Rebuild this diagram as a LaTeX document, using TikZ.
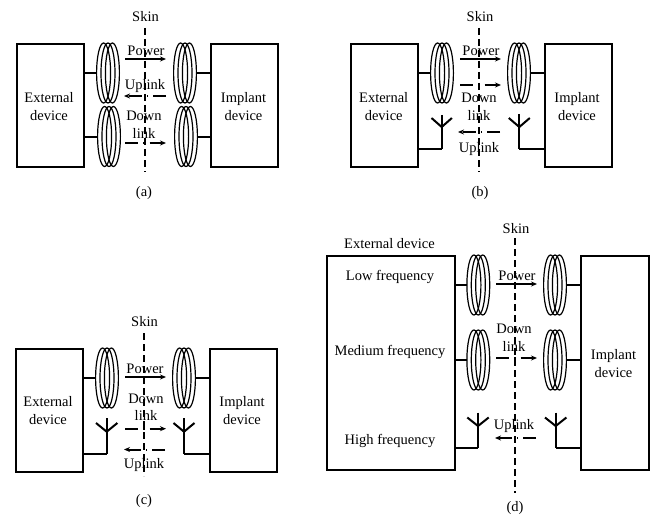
\documentclass[tikz,border=0pt]{standalone}
\usepackage{fontspec}
\setmainfont{Liberation Serif}
\usetikzlibrary{shapes.geometric,arrows.meta}
\tikzset{
  boxnode/.style={draw,line width=2pt,inner sep=0pt,anchor=north west},
  coilring/.style={draw,ellipse,line width=1.2pt,minimum width=14pt,minimum height=60pt,inner sep=0pt},
  coilframe/.style={inner sep=0pt,minimum width=22pt,minimum height=60pt},
  wire/.style={line width=2pt},
  skinline/.style={line width=2pt,dash pattern=on 7pt off 4pt},
  lbl/.style={inner sep=0pt,font=\fontsize{14.5}{17}\selectfont,text height=14.5pt,text depth=3pt},
  solidflow/.style={line width=2pt,-{Stealth[length=6pt,width=5pt]}},
  dashflow/.style={line width=2pt,dash pattern=on 13pt off 5pt on 1.5pt off 5pt,-{Stealth[length=6pt,width=5pt]}}
}
% name, x centre, y centre
\newcommand{\coilat}[3]{%
  \node[coilframe] (#1) at (#2,#3) {};
  \node[coilring] (#1a) at (#2-4.4,#3) {};
  \node[coilring] (#1b) at (#2,#3) {};
  \node[coilring] (#1c) at (#2+4.4,#3) {};
}
% name, stem x, top y, joint y, tip y, foot y, half spread
\newcommand{\antennaat}[7]{%
  \coordinate (#1top) at (#2,#3);
  \coordinate (#1joint) at (#2,#4);
  \coordinate (#1l) at (#2-#7,#5);
  \coordinate (#1r) at (#2+#7,#5);
  \coordinate (#1foot) at (#2,#6);
  \draw[wire] (#1l) -- (#1joint) -- (#1r);
  \draw[wire] (#1top) -- (#1foot);
}
% name, style, x1, x2, y
\newcommand{\flowat}[5]{%
  \coordinate (#1s) at (#3,#5);
  \coordinate (#1e) at (#4,#5);
  \draw[#2] (#1s) -- (#1e);
}
\newcommand{\skinat}[4]{% name, x, y1, y2
  \coordinate (#1s) at (#2,#3);
  \coordinate (#1e) at (#2,#4);
  \draw[skinline] (#1s) -- (#1e);
}
\begin{document}
\begin{tikzpicture}[x=1pt,y=-1pt]
\useasboundingbox (0,0) rectangle (655,516);
% ---------- (a)
\node[boxnode,minimum width=67pt,minimum height=123pt] (aext) at (16,43) {};
\node[boxnode,minimum width=67pt,minimum height=123pt] (aimp) at (210,43) {};
\coilat{acA}{108}{73}
\coilat{acB}{109}{136.5}
\coilat{acC}{185}{73}
\coilat{acD}{186}{136.5}
\draw[wire] (aext.east |- acA.west) -- (acA.west);
\draw[wire] (aext.east |- acB.west) -- (acB.west);
\draw[wire] (aimp.west |- acC.east) -- (acC.east);
\draw[wire] (aimp.west |- acD.east) -- (acD.east);
\skinat{askin}{144.5}{28}{172}
\flowat{afa}{solidflow}{125}{166}{59}
\flowat{afb}{dashflow}{166}{124}{96}
\flowat{afc}{dashflow}{125}{166}{143}
\node[lbl] (askint) at (145.5,16) {Skin};
\node[lbl] (acap) at (144,191) {(a)};
\node[lbl] (aextA) at (49,97) {External};
\node[lbl] (aextB) at (49,114.5) {device};
\node[lbl] (aimpA) at (243.5,97) {Implant};
\node[lbl] (aimpB) at (243.5,114.5) {device};
\node[lbl] (apow) at (146,50) {Power};
\node[lbl] (aup) at (145,84) {Uplink};
\node[lbl] (adnA) at (144,115) {Down};
\node[lbl] (adnB) at (144,133) {link};
% ---------- (b)
\node[boxnode,minimum width=67pt,minimum height=123pt] (bext) at (350,43) {};
\node[boxnode,minimum width=67pt,minimum height=123pt] (bimp) at (544,43) {};
\coilat{bcA}{442}{73}
\coilat{bcB}{519}{73}
\draw[wire] (bext.east |- bcA.west) -- (bcA.west);
\draw[wire] (bimp.west |- bcB.east) -- (bcB.east);
\antennaat{baL}{441.7}{115}{127}{118}{149}{10.2}
\antennaat{baR}{519.3}{114}{127}{118}{149}{10.5}
\draw[wire] (baLfoot) -- (bext.east |- baLfoot);
\draw[wire] (baRfoot) -- (bimp.west |- baRfoot);
\skinat{bskin}{479}{28}{172}
\flowat{bfa}{solidflow}{460}{501}{59}
\flowat{bfb}{dashflow}{460}{501}{85}
\flowat{bfc}{dashflow}{500}{458}{132}
\node[lbl] (bskint) at (480,16) {Skin};
\node[lbl] (bcap) at (480,191) {(b)};
\node[lbl] (bextA) at (383.7,97) {External};
\node[lbl] (bextB) at (383.7,114.5) {device};
\node[lbl] (bimpA) at (577,97) {Implant};
\node[lbl] (bimpB) at (577,114.5) {device};
\node[lbl] (bpow) at (481,50) {Power};
\node[lbl] (bdnA) at (479,97) {Down};
\node[lbl] (bdnB) at (479,115) {link};
\node[lbl] (bup) at (479,147) {Uplink};
% ---------- (c)
\node[boxnode,minimum width=67pt,minimum height=122.7pt] (cext) at (15,348) {};
\node[boxnode,minimum width=67pt,minimum height=122.7pt] (cimp) at (208.5,348) {};
\coilat{ccA}{107}{378}
\coilat{ccB}{184}{378}
\draw[wire] (cext.east |- ccA.west) -- (ccA.west);
\draw[wire] (cimp.west |- ccB.east) -- (ccB.east);
\antennaat{caL}{106.7}{418}{431.7}{423}{453.7}{10.7}
\antennaat{caR}{184}{418}{431.7}{423}{453.7}{10.5}
\draw[wire] (caLfoot) -- (cext.east |- caLfoot);
\draw[wire] (caRfoot) -- (cimp.west |- caRfoot);
\skinat{cskin}{144}{333}{476}
\flowat{cfa}{solidflow}{125}{166}{377}
\flowat{cfb}{dashflow}{125}{166}{428.7}
\flowat{cfc}{dashflow}{165}{124}{449.5}
\node[lbl] (cskint) at (144.5,321) {Skin};
\node[lbl] (ccap) at (144,498.5) {(c)};
\node[lbl] (cextA) at (48,401) {External};
\node[lbl] (cextB) at (48,419) {device};
\node[lbl] (cimpA) at (242,401) {Implant};
\node[lbl] (cimpB) at (242,419) {device};
\node[lbl] (cpow) at (145,368) {Power};
\node[lbl] (cdnA) at (146,397.7) {Down};
\node[lbl] (cdnB) at (146,415) {link};
\node[lbl] (cup) at (144,463) {Uplink};
% ---------- (d)
\node[boxnode,minimum width=127.4pt,minimum height=214.3pt] (dext) at (326.3,254.7) {};
\node[boxnode,minimum width=67.7pt,minimum height=214.3pt] (dimp) at (580,254.7) {};
\coilat{dcA}{478.3}{285}
\coilat{dcB}{478.3}{360}
\coilat{dcC}{555}{285}
\coilat{dcD}{555}{360}
\draw[wire] (dext.east |- dcA.west) -- (dcA.west);
\draw[wire] (dext.east |- dcB.west) -- (dcB.west);
\draw[wire] (dimp.west |- dcC.east) -- (dcC.east);
\draw[wire] (dimp.west |- dcD.east) -- (dcD.east);
\antennaat{daL}{478}{412.7}{426}{417.5}{448.3}{10.7}
\antennaat{daR}{555.7}{412.7}{426}{417.5}{448.3}{10.7}
\draw[wire] (daLfoot) -- (dext.east |- daLfoot);
\draw[wire] (daRfoot) -- (dimp.west |- daRfoot);
\skinat{dskin}{515.3}{238}{493}
\flowat{dfa}{solidflow}{496}{537}{284}
\flowat{dfb}{dashflow}{496}{537}{358}
\flowat{dfc}{dashflow}{536}{495}{438}
\node[lbl] (dskint) at (516,228) {Skin};
\node[lbl] (dcap) at (515,506) {(d)};
\node[lbl] (dtitle) at (389.5,243) {External device};
\node[lbl] (dlow) at (390,275) {Low frequency};
\node[lbl] (dmed) at (390,350) {Medium frequency};
\node[lbl] (dhigh) at (390,439) {High frequency};
\node[lbl] (dpow) at (517,275) {Power};
\node[lbl] (ddnA) at (514,328) {Down};
\node[lbl] (ddnB) at (514,346) {link};
\node[lbl] (dup) at (514,424) {Uplink};
\node[lbl] (dimpA) at (613.5,354) {Implant};
\node[lbl] (dimpB) at (613.5,372) {device};
\end{tikzpicture}
\end{document}
